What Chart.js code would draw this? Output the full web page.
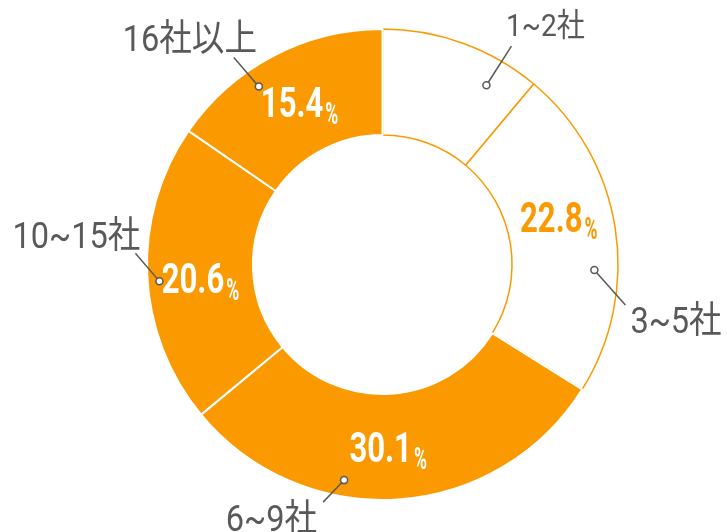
<!DOCTYPE html>
<html>
<head>
<meta charset="utf-8">
<script src="https://cdn.jsdelivr.net/npm/chart.js@4"></script>
<style>
  html, body { margin: 0; padding: 0; background: #fff; }
  #wrap { width: 727px; height: 532px; }
</style>
</head>
<body>
<div id="wrap"><canvas id="chart"></canvas></div>
<script>
// data
const categories = ['1~2社', '3~5社', '6~9社', '10~15社', '16社以上'];
const shares = [11.1, 22.8, 30.1, 20.6, 15.4];
const pctLabels = ['', '22.8', '30.1', '20.6', '15.4'];

const ORANGE = '#fb9900';
const GREY = '#595959';
const fills = [ '#ffffff', '#ffffff', ORANGE, ORANGE, ORANGE ];
const borders = [ ORANGE, ORANGE, '#ffffff', '#ffffff', '#ffffff' ];
const pctColors = [ null, ORANGE, '#ffffff', '#ffffff', '#ffffff' ];

// label placement: angle shift from mid-angle (deg) for percent labels
const pctShift = [0, -6, 2, -1.6, 0.7];
// callout: anchor angle (deg clockwise from top), radius ratio, line end offset, text offset/align
const callouts = [
    { angle: 30.1, r: 0.88, lx: 25, ly: -39, tx: 34, ty: -10, align: 'center', size: 32 },
    { angle: 91.5, r: 0.90, lx: 31, ly: 35, tx: 5, ty: 28, align: 'left', size: 37 },
    { angle: 190.1, r: 0.93, lx: -21, ly: 22, tx: -6, ty: 29, align: 'right', size: 37 },
    { angle: 265.7, r: 0.95, lx: -24, ly: -28, tx: 5, ty: -5, align: 'right', size: 37 },
    { angle: 325.2, r: 0.92, lx: -25, ly: -29, tx: -44, ty: -7, align: 'center', size: 37 }
];

const FONT = "Roboto, 'Noto Sans CJK JP', sans-serif";

function drawScaled(ctx, text, x, y, align, sx) {
    ctx.save();
    ctx.translate(x, y);
    ctx.scale(sx, 1);
    ctx.textAlign = align;
    ctx.fillText(text, 0, 0);
    ctx.restore();
}

const labelPlugin = {
    id: 'labels',
    afterDatasetsDraw(chart) {
        const ctx = chart.ctx;
        const arcs = chart.getDatasetMeta(0).data;
        const cx = arcs[0].x, cy = arcs[0].y;
        const outer = arcs[0].outerRadius, inner = arcs[0].innerRadius;
        ctx.save();
        ctx.textBaseline = 'alphabetic';

        // percentage labels
        arcs.forEach((arc, i) => {
            if (!pctLabels[i]) return;
            const mid = (arc.startAngle + arc.endAngle) / 2 + pctShift[i] * Math.PI / 180;
            const r = (outer + inner) / 2;
            const px = cx + Math.cos(mid) * r;
            const py = cy + Math.sin(mid) * r;
            const sx = 0.74;
            ctx.fillStyle = pctColors[i];
            ctx.font = 'bold 42px ' + FONT;
            const w1 = ctx.measureText(pctLabels[i]).width * sx;
            ctx.font = 'bold 32px ' + FONT;
            const w2 = ctx.measureText('%').width * 0.55;
            const gap = 2;
            const left = px - (w1 + gap + w2) / 2;
            const base = py + 42 * 0.355;
            ctx.font = 'bold 42px ' + FONT;
            drawScaled(ctx, pctLabels[i], left, base, 'left', sx);
            ctx.font = 'bold 32px ' + FONT;
            drawScaled(ctx, '%', left + w1 + gap, base + 7, 'left', 0.55);
        });

        // callouts
        ctx.strokeStyle = GREY;
        ctx.lineWidth = 1.5;
        callouts.forEach((c, i) => {
            const a = (c.angle - 90) * Math.PI / 180;
            const ax = cx + Math.cos(a) * outer * c.r;
            const ay = cy + Math.sin(a) * outer * c.r;
            const ex = ax + c.lx, ey = ay + c.ly;
            const d = Math.hypot(c.lx, c.ly);
            const rad = 3.5;
            ctx.beginPath();
            ctx.moveTo(ax + c.lx / d * rad, ay + c.ly / d * rad);
            ctx.lineTo(ex, ey);
            ctx.stroke();
            ctx.beginPath();
            ctx.arc(ax, ay, rad, 0, Math.PI * 2);
            ctx.fillStyle = '#fff';
            ctx.fill();
            ctx.stroke();
            ctx.fillStyle = GREY;
            ctx.font = c.size + 'px ' + FONT;
            drawScaled(ctx, categories[i], ex + c.tx, ey + c.ty, c.align, 0.88);
        });
        ctx.restore();
    }
};

new Chart(document.getElementById('chart'), {
    type: 'doughnut',
    data: {
        labels: categories,
        datasets: [{
            data: shares,
            backgroundColor: fills,
            borderColor: borders,
            borderWidth: [1.5, 1.5, 2, 2, 2],
            hoverOffset: 0
        }]
    },
    options: {
        responsive: true,
        maintainAspectRatio: false,
        animation: false,
        cutout: '55%',
        layout: { padding: { left: 146, right: 108, top: 28, bottom: 31 } },
        plugins: { legend: { display: false }, tooltip: { enabled: false } }
    },
    plugins: [labelPlugin]
});
</script>
</body>
</html>
